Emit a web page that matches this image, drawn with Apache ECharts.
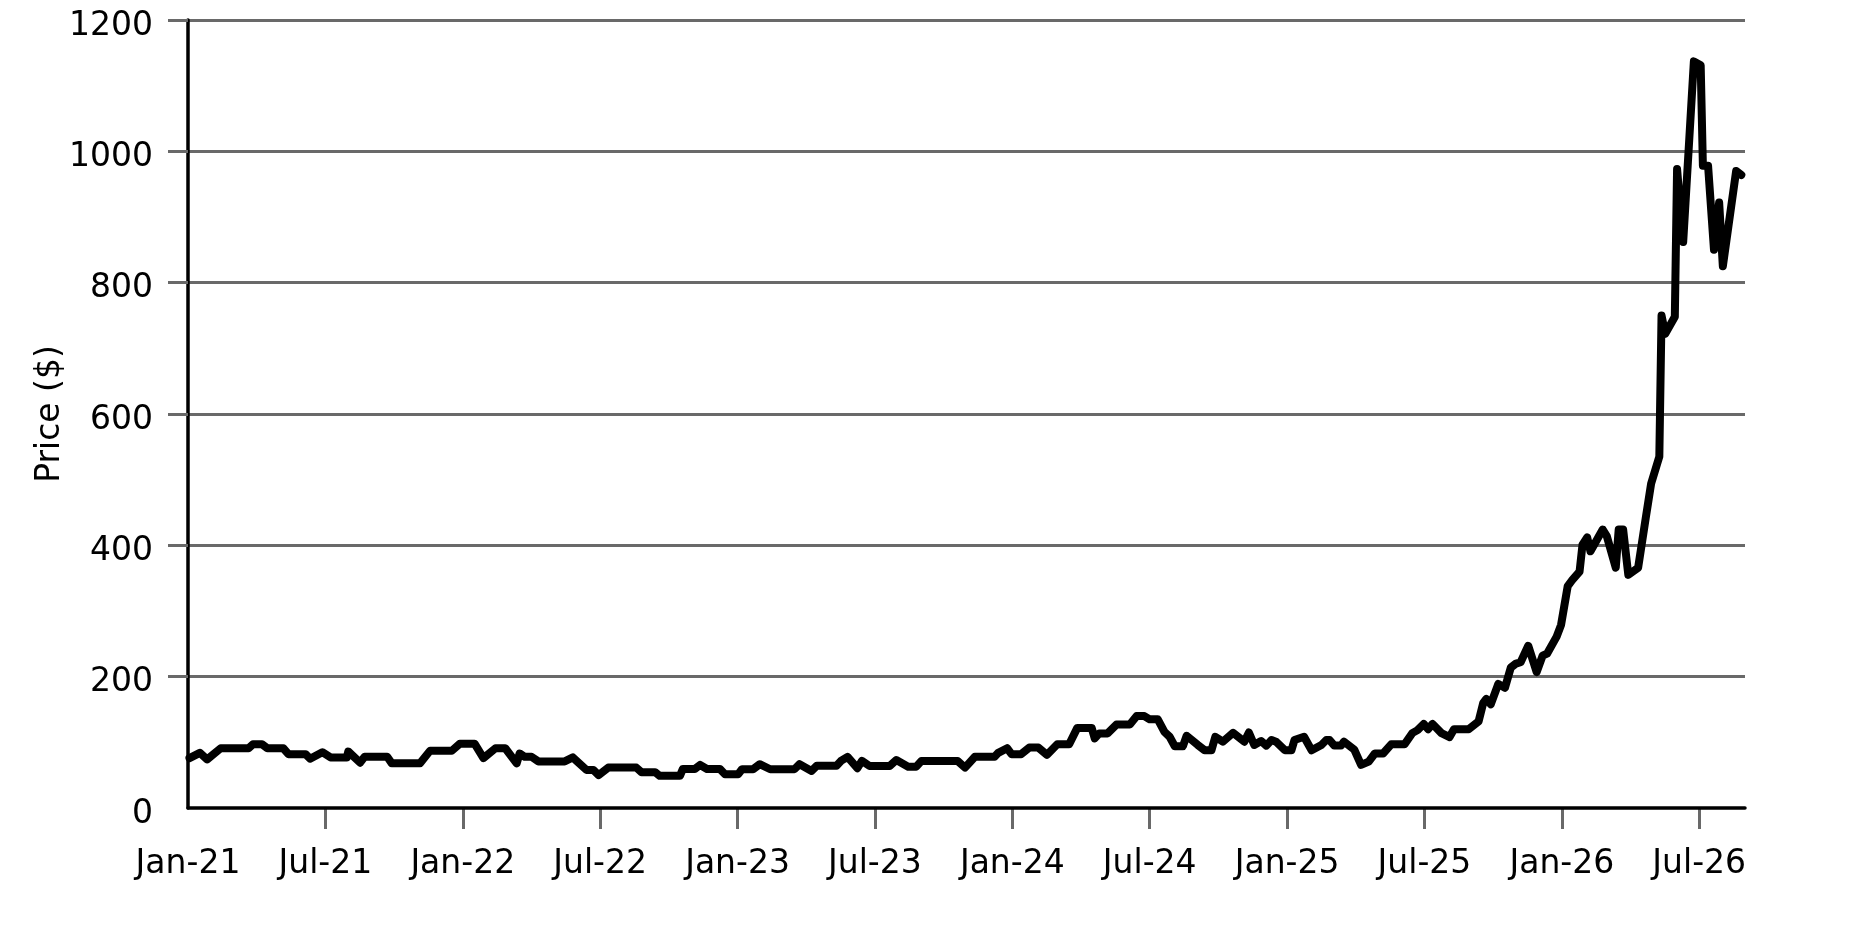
<!DOCTYPE html>
<html>
<head>
<meta charset="utf-8">
<script src="https://cdn.jsdelivr.net/npm/echarts@6/dist/echarts.min.js"></script>
<style>
html,body{margin:0;padding:0;background:#fff;}
#chart{width:1875px;height:938px;}
</style>
</head>
<body>
<div id="chart"></div>
<script>
const dates = [
'2021-01-03','2021-01-17','2021-01-27','2021-02-13','2021-03-21','2021-03-27','2021-04-08','2021-04-15','2021-05-06','2021-05-13','2021-06-05','2021-06-11','2021-06-27','2021-07-08','2021-07-30','2021-08-01','2021-08-17','2021-08-23','2021-09-22','2021-09-28','2021-11-05','2021-11-18','2021-12-17','2021-12-28',
'2022-01-17','2022-01-29','2022-02-13','2022-02-25','2022-03-12','2022-03-16','2022-03-23','2022-04-01','2022-04-10','2022-05-15','2022-05-26','2022-06-13','2022-06-22','2022-06-29','2022-07-12','2022-08-19','2022-08-26','2022-09-13','2022-09-19','2022-10-16','2022-10-20','2022-11-05','2022-11-12','2022-11-21','2022-12-08','2022-12-15',
'2023-01-02','2023-01-07','2023-01-22','2023-01-31','2023-02-13','2023-03-16','2023-03-23','2023-04-08','2023-04-15','2023-05-11','2023-05-17','2023-05-26','2023-06-08','2023-06-14','2023-06-24','2023-07-21','2023-07-30','2023-08-15','2023-08-26','2023-09-02','2023-10-20','2023-10-30','2023-11-12','2023-12-08','2023-12-13','2023-12-25','2023-12-31',
'2024-01-13','2024-01-24','2024-02-05','2024-02-16','2024-02-29','2024-03-16','2024-03-27','2024-04-15','2024-04-19','2024-04-25','2024-05-06','2024-05-18','2024-06-05','2024-06-14','2024-06-24','2024-07-01','2024-07-12','2024-07-21','2024-07-28','2024-08-04','2024-08-15','2024-08-20','2024-09-04','2024-09-13','2024-09-22','2024-09-27','2024-10-07','2024-10-21','2024-11-05','2024-11-11','2024-11-18','2024-11-27','2024-12-04','2024-12-11','2024-12-17','2024-12-29',
'2025-01-07','2025-01-11','2025-01-24','2025-02-03','2025-02-15','2025-02-21','2025-02-25','2025-03-03','2025-03-12','2025-03-16','2025-03-30','2025-04-08','2025-04-18','2025-04-26','2025-05-07','2025-05-18','2025-06-05','2025-06-15','2025-06-22','2025-06-30','2025-07-06','2025-07-12','2025-07-24','2025-08-04','2025-08-10','2025-08-30','2025-09-12','2025-09-18','2025-09-22','2025-09-28','2025-10-08','2025-10-17','2025-10-25','2025-11-01','2025-11-07','2025-11-17','2025-11-28','2025-12-06','2025-12-12','2025-12-25','2025-12-31',
'2026-01-09','2026-01-15','2026-01-25','2026-01-29','2026-02-04','2026-02-08','2026-02-23','2026-02-28','2026-03-12','2026-03-16','2026-03-22','2026-03-29','2026-04-11','2026-04-21','2026-04-28','2026-05-09','2026-05-12','2026-05-17','2026-05-30','2026-06-02','2026-06-10','2026-06-24','2026-07-03','2026-07-06','2026-07-13','2026-07-21','2026-07-28','2026-08-02','2026-08-20','2026-08-27'
];
const prices = [
76,84,74,91,91,97,97,91,91,82,82,75,85,77,77,86,69,78,78,68,68,87,87,98,
98,76,91,91,68,83,78,78,71,71,77,58,58,50,61.5,61.5,54.5,54.5,49,49,59.5,59.5,65.6,59.5,59.5,51.5,
51.5,59,59,66.7,59,59,66.7,56.5,64.5,64.5,71.7,78,60.6,71.7,64,64,73,63,63,71.7,71.7,61.5,78,78,84,91,82,
82,92,92,81,97,97,122,122,106,113.6,113.6,127,127,140,140,135,135,116,108.5,94,94,110,96,88,88,108.5,101,114.5,101,115,96,102,95,103.5,101,88,
88,103.5,108.5,88,96,103.5,103.5,95,95,101,89,65.6,70.6,83,83,97,97,114,118.6,128,120,128,114,108,120,120,132,160,166,158,189,183,214,220,222,247,207,232,235,261,279,
338,347,360,401,412,391,424,414,366,424,424,355,366,442,494,535,750,722,748,973,862,1137,1131,978,978,850,922,825,970,964
];
const xTickLabels = ['Jan-21','Jul-21','Jan-22','Jul-22','Jan-23','Jul-23','Jan-24','Jul-24','Jan-25','Jul-25','Jan-26','Jul-26'];
const yTicks = [0,200,400,600,800,1000,1200];

function toMonths(s){
  const p = s.split('-').map(Number);
  const dim = new Date(p[0], p[1], 0).getDate();
  return (p[0]-2021)*12 + (p[1]-1) + (p[2]-1)/dim;
}
const xTickValues = xTickLabels.map((_, i) => i*6);
const seriesData = dates.map((d, i) => [toMonths(d), prices[i]]);

const FONT = 'DejaVu Sans';
const GRAY = '#696969';
const chart = echarts.init(document.getElementById('chart'), null, {renderer:'canvas'});
chart.setOption({
  animation: false,
  backgroundColor: '#fff',
  grid: {left: 188, top: 20, width: 1557, height: 788, outerBoundsMode: 'none'},
  xAxis: [{
    type: 'value', min: 0, max: 68, interval: 6, z: 1,
    axisLine: {show: true, lineStyle: {color: '#000', width: 3.5}},
    axisTick: {show: false},
    splitLine: {show: false},
    axisLabel: {
      customValues: xTickValues,
      margin: 40, fontSize: 33, fontFamily: FONT, color: '#000',
      formatter: v => xTickLabels[Math.round(v/6)]
    }
  }, {
    type: 'value', min: 0, max: 68, interval: 6, position: 'bottom', offset: 4,
    axisLine: {show: false},
    axisLabel: {show: false},
    splitLine: {show: false},
    axisTick: {show: true, length: 21, customValues: xTickValues.slice(1), lineStyle: {color: GRAY, width: 3}}
  }],
  yAxis: [{
    type: 'value', min: 0, max: 1200, interval: 200, z: 0,
    name: 'Price ($)', nameLocation: 'middle', nameGap: 121, nameMoveOverlap: false,
    nameTextStyle: {fontSize: 33, fontFamily: FONT, color: '#000'},
    axisLine: {show: true, lineStyle: {color: '#000', width: 3.5}},
    axisTick: {show: false},
    splitLine: {show: true, showMinLine: false, lineStyle: {color: GRAY, width: 3}},
    axisLabel: {
      customValues: yTicks,
      margin: 35, fontSize: 33, fontFamily: FONT, color: '#000',
      verticalAlign: 'top', lineHeight: 12,
      formatter: v => String(v)
    }
  }, {
    type: 'value', min: 0, max: 1200, interval: 200, position: 'left', offset: 4,
    axisLine: {show: false},
    axisLabel: {show: false},
    splitLine: {show: false},
    axisTick: {show: true, length: 20, customValues: yTicks.slice(1), lineStyle: {color: GRAY, width: 3}}
  }],
  series: [{
    type: 'line', xAxisIndex: 0, yAxisIndex: 0,
    data: seriesData, showSymbol: false, symbol: 'none',
    lineStyle: {color: '#000', width: 8, cap: 'round', join: 'round'},
    z: 3
  }]
});
</script>
</body>
</html>
